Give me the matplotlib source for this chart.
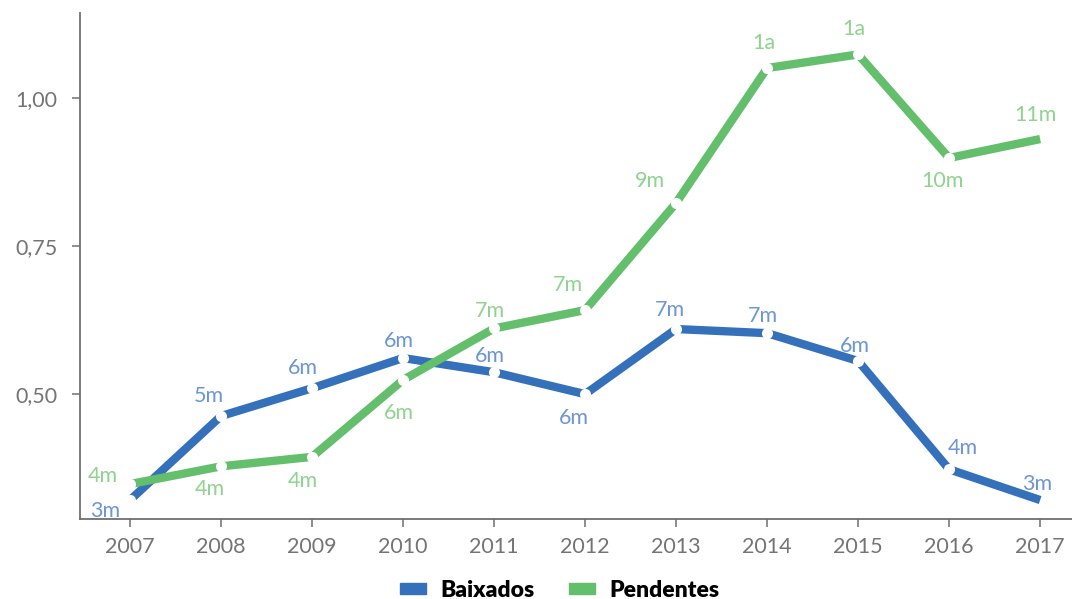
import numpy as np
from matplotlib import pyplot as plt
from matplotlib.patches import Patch
from matplotlib.ticker import FuncFormatter

# data
years = [2007, 2008, 2009, 2010, 2011, 2012, 2013, 2014, 2015, 2016, 2017]
baixados = [0.321, 0.463, 0.510, 0.561, 0.537, 0.500, 0.610, 0.603, 0.556, 0.373, 0.321]
pendentes = [0.348, 0.378, 0.394, 0.524, 0.611, 0.642, 0.823, 1.051, 1.074, 0.899, 0.931]
baixados_labels = ['3m', '5m', '6m', '6m', '6m', '6m', '7m', '7m', '6m', '4m', '3m']
pendentes_labels = ['4m', '4m', '4m', '6m', '7m', '7m', '9m', '1a', '1a', '10m', '11m']
yticks = [0.50, 0.75, 1.00]

# label offsets in pixels (dx, dy up)
off_b = [(-25, -11), (-12, 20), (-9, 20), (-4, 17), (-4, 16), (-11, -24),
         (-6, 19), (-4, 17), (-3, 15), (14, 21), (-3, 16)]
off_p = [(-27, 8), (-11, -23), (-9, -24), (-4, -33), (-4, 17), (-17, 25),
         (-26, 22), (-3, 25), (-4, 25), (-7, -23), (-5, 24)]

blue = '#3571ba'
green = '#63bf6c'
blue_txt = '#6c96d4'
green_txt = '#8ed38f'
grey = '#6f6f6f'

plt.rcParams['font.family'] = ['Lato', 'DejaVu Sans']

fig = plt.figure(figsize=(10.72, 5.99), dpi=100)
ax = fig.add_axes([80 / 1072, 1 - 519 / 599, 1 - 80 / 1072, (519 - 13) / 599])

for vals, col in [(baixados, blue), (pendentes, green)]:
    ax.plot(years, vals, color=col, lw=6, solid_capstyle='butt',
            marker='o', markersize=8, markerfacecolor='white',
            markeredgewidth=0, markevery=slice(0, len(years) - 1), zorder=3)

for vals, labs, offs, col in [(baixados, baixados_labels, off_b, blue_txt),
                              (pendentes, pendentes_labels, off_p, green_txt)]:
    for x, y, t, (dx, dy) in zip(years, vals, labs, offs):
        ax.annotate(t, (x, y), xytext=(dx * 0.72, dy * 0.72),
                    textcoords='offset points', ha='center', va='center',
                    color=col, fontsize=15.5, zorder=4)

ax.set_xlim(2006.45, 2017.35)
ax.set_ylim(0.289, 1.144)
ax.set_xticks(years)
ax.set_yticks(yticks)
ax.yaxis.set_major_formatter(FuncFormatter(lambda v, p: f'{v:.2f}'.replace('.', ',')))

for s in ['top', 'right']:
    ax.spines[s].set_visible(False)
for s in ['left', 'bottom']:
    ax.spines[s].set_color(grey)
    ax.spines[s].set_linewidth(1.3)

ax.tick_params(axis='both', colors=grey, labelcolor='#747474', labelsize=15.5,
               length=6, width=1.1)
ax.tick_params(axis='x', pad=7)
ax.tick_params(axis='y', pad=10)

handles = [Patch(color=blue, label='Baixados'), Patch(color=green, label='Pendentes')]
fig.legend(handles=handles, loc='center', bbox_to_anchor=(0.522, 0.015), ncol=2,
           frameon=False, handlelength=1.15, handleheight=0.4, handletextpad=0.6,
           columnspacing=1.5, prop={'size': 16.5, 'weight': 'heavy'})

plt.savefig('out.png', dpi=100)
